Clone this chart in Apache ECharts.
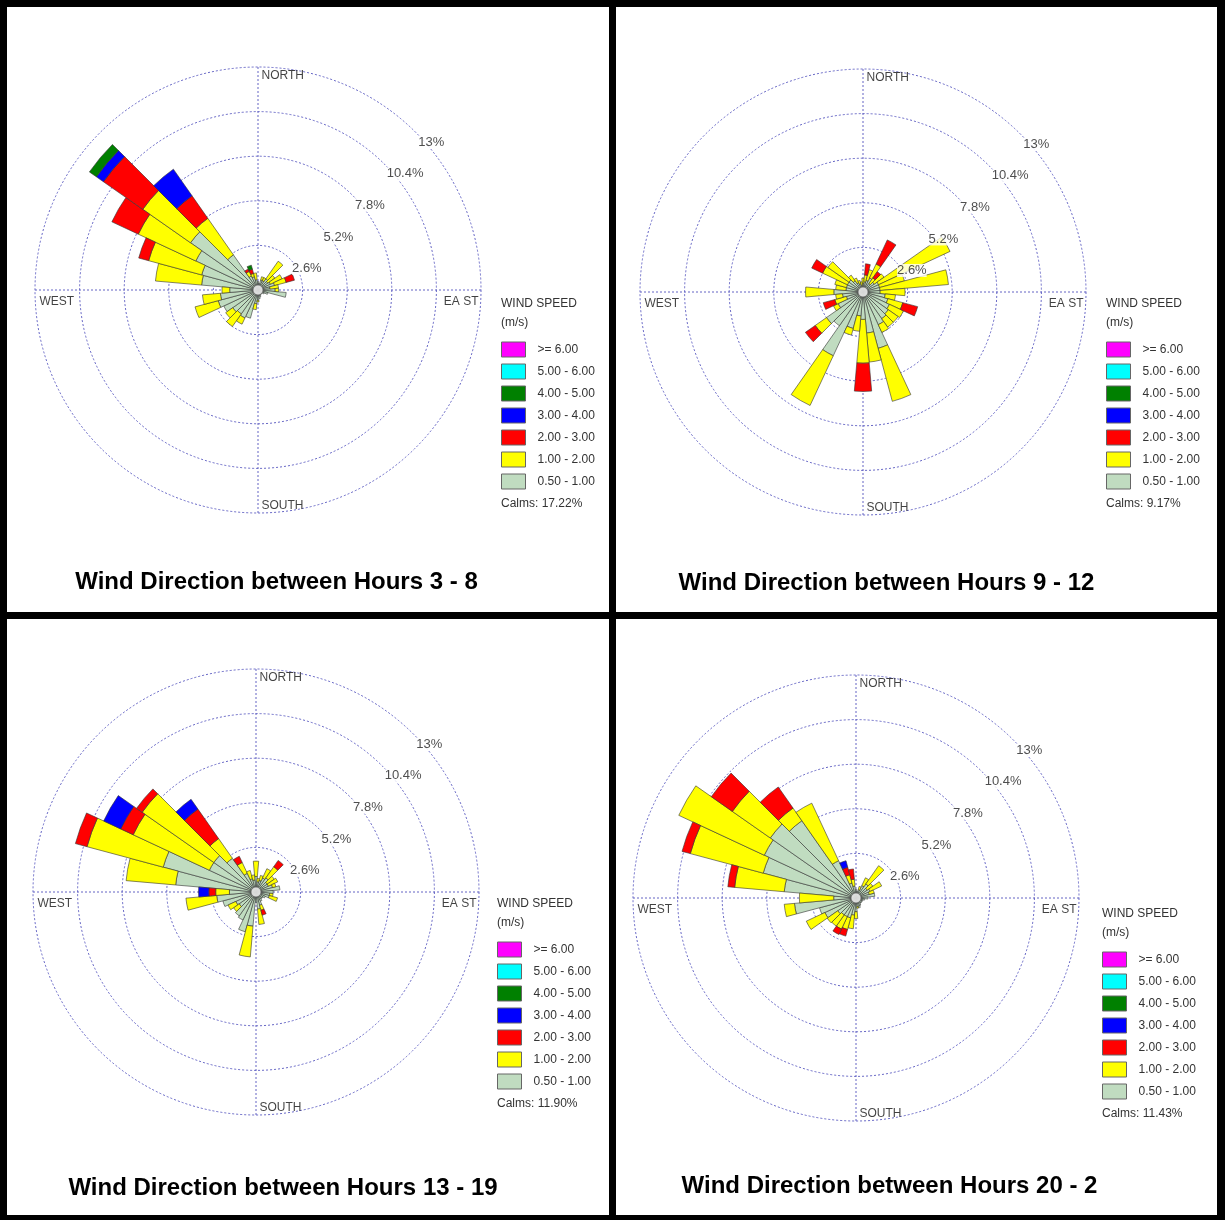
<!DOCTYPE html>
<html>
<head>
<meta charset="utf-8">
<title>Wind Direction by Hour</title>
<script src="https://cdn.jsdelivr.net/npm/echarts/dist/echarts.min.js"></script>
<style>
html, body { margin: 0; padding: 0; background: #000; }
#frame { position: relative; width: 1225px; height: 1220px; background: #000; }
.panel { position: absolute; background: #fff; }
</style>
</head>
<body>
<div id="frame">
  <div class="panel" id="rose_3_8" style="left:7px;top:7px;width:602px;height:605px"></div>
  <div class="panel" id="rose_9_12" style="left:616px;top:7px;width:601px;height:605px"></div>
  <div class="panel" id="rose_13_19" style="left:7px;top:619px;width:602px;height:596px"></div>
  <div class="panel" id="rose_20_2" style="left:616px;top:619px;width:601px;height:596px"></div>
</div>
<script>
// 36 sectors, blowing from, degrees clockwise from north
var directions = ['0', '10', '20', '30', '40', '50', '60', '70', '80', '90', '100', '110',
  '120', '130', '140', '150', '160', '170', '180', '190', '200', '210', '220', '230',
  '240', '250', '260', '270', '280', '290', '300', '310', '320', '330', '340', '350'];
var speedClasses = ['0.50 - 1.00', '1.00 - 2.00', '2.00 - 3.00', '3.00 - 4.00', '4.00 - 5.00', '5.00 - 6.00', '>= 6.00'];
var speedColors = ['#c0dcc0', '#ffff00', '#ff0000', '#0000ff', '#008000', '#00ffff', '#ff00ff'];
var ringTicks = [2.6, 5.2, 7.8, 10.4, 13];

// frequency (%) per direction, speed classes from the inside out
var hours_3_8 = [
  [0.5], [0.4], [0.6, 0.2], [0.6, 0.2], [0.8, 1.25], [0.7, 0.5],
  [0.8, 0.75], [1.0, 0.7, 0.5], [0.7, 0.5], [1.0, 0.2], [1.65], [0.6],
  [0.4], [0.3], [0.3], [0.3], [0.4], [0.5],
  [0.6, 0.1], [0.8, 0.35], [1.7], [1.8, 0.4], [1.7, 0.9], [1.8, 0.5],
  [2.2], [2.4, 1.4], [2.2, 1.05], [1.65, 0.45], [3.3, 2.7], [3.4, 3.2, 0.6],
  [4.0, 3.7, 1.7], [4.8, 3.4, 2.8, 0.5, 0.5], [2.5, 2.6, 1.6, 1.9], [0.9, 0.3, 0.15], [0.8, 0.2, 0.25, 0, 0.25], [0.6, 0.4]
];
var calms_3_8 = 17.22;

var hours_9_12 = [
  [0.5, 0.3], [0.6, 0.4, 0.65], [0.7, 0.65], [0.9, 0.9, 1.55], [0.6, 0.4, 0.45], [0.8, 0.7],
  [1.0, 4.6], [1.0, 1.5], [1.0, 4.0], [1.0, 1.45], [1.3, 0.6], [1.5, 0.9, 0.9],
  [1.7, 0.9], [1.8, 0.7], [1.9, 0.6], [2.1, 0.5], [3.4, 3.2], [2.4, 1.7],
  [1.6, 2.55, 1.65], [1.4, 0.9], [2.2, 0.4], [4.1, 3.2], [2.4], [2.6, 0.8, 0.7],
  [1.6, 0.3], [1.0, 0.7, 0.7], [1.2, 0.4], [1.7, 1.65], [1.0, 0.6], [1.0, 0.7],
  [1.0, 1.6, 0.7], [1.0, 1.5], [0.8, 0.4], [0.6, 0.3], [0.5, 0.2], [0.4, 0.2]
];
var calms_9_12 = 9.17;

var hours_13_19 = [
  [0.9, 0.9], [0.6, 0.2], [0.7, 0.3], [0.9, 0.6], [1.0, 0.8, 0.45], [0.8, 0.5],
  [0.8, 0.6], [1.0, 0.2], [1.4], [1.0], [0.8, 0.2], [0.8, 0.5],
  [0.6], [0.5], [0.5], [0.6], [0.8, 0.3, 0.3], [1.0, 0.9],
  [0.6], [2.0, 1.8], [2.4], [1.8], [1.7], [1.2, 0.4],
  [1.3, 0.5], [2.0], [2.3, 1.8], [1.55, 0.8, 0.4, 0.6], [4.7, 2.9], [5.6, 4.6, 0.7],
  [3.0, 4.9, 0.8, 1.1], [3.0, 5.1, 0.4], [2.4, 1.4, 2.1, 0.7], [1.2, 0.7, 0.4], [0.8, 0.5], [0.7, 0.3]
];
var calms_13_19 = 11.90;

var hours_20_2 = [
  [0.5], [0.4], [0.5, 0.2], [0.8, 0.5], [1.0, 1.3], [0.8, 0.4],
  [0.9, 0.75], [0.8, 0.3], [1.1], [0.7], [0.5], [0.4],
  [0.4], [0.4], [0.4], [0.5], [0.6], [0.5, 0.1],
  [0.8, 0.4], [1.0, 0.8], [1.2, 0.7, 0.4], [1.2, 0.8, 0.35], [1.2, 0.8], [1.3, 0.75],
  [2.0, 1.2], [2.2], [3.6, 0.6], [1.3, 2.0], [4.2, 2.9, 0.4], [5.6, 4.4, 0.5],
  [5.9, 5.5], [6.1, 2.7, 1.5], [5.5, 0.9, 1.5], [2.4, 3.7], [0.9, 0.5, 0.45, 0.4], [0.7, 0.4, 0.6]
];
var calms_20_2 = 11.43;

var FONT = '"Liberation Sans", Arial, sans-serif';
var gridLine = { color: '#6464c4', width: 1, type: [2, 2] };

function drawRose(domId, petals, calms, title, L) {
  var dom = document.getElementById(domId);
  var myChart = echarts.init(dom, null, { renderer: 'canvas' });

  var series = speedClasses.map(function (name, k) {
    return {
      type: 'bar',
      name: name,
      coordinateSystem: 'polar',
      polarIndex: 0,
      stack: 'rose',
      barCategoryGap: '0%',
      silent: true,
      itemStyle: { color: speedColors[k], borderColor: '#333', borderWidth: 0.6 },
      data: petals.map(function (p) { return p[k] ? p[k] : null; })
    };
  });

  // ring labels at north-east
  series.push({
    type: 'scatter',
    coordinateSystem: 'polar',
    polarIndex: 1,
    silent: true,
    symbolSize: 1,
    z: 10,
    itemStyle: { color: 'rgba(0,0,0,0)' },
    label: {
      show: true,
      position: [3, 4],
      fontSize: 13,
      fontFamily: FONT,
      color: '#222',
      backgroundColor: '#fff',
      formatter: function (p) { return p.value[0] + '%'; }
    },
    data: ringTicks.map(function (t) { return [t, 45]; })
  });

  // compass labels
  var rMax = ringTicks[ringTicks.length - 1];
  series.push({
    type: 'scatter',
    coordinateSystem: 'polar',
    polarIndex: 1,
    silent: true,
    symbolSize: 1,
    z: 10,
    itemStyle: { color: 'rgba(0,0,0,0)' },
    label: {
      show: true,
      fontSize: 12,
      fontFamily: FONT,
      color: '#111',
      formatter: '{b}'
    },
    data: [
      { name: 'NORTH', value: [rMax, 0], label: { position: [4, 3], align: 'left', verticalAlign: 'top' } },
      { name: 'EA ST', value: [rMax, 90], label: { position: [-2, 6], align: 'right', verticalAlign: 'top' } },
      { name: 'SOUTH', value: [rMax, 180], label: { position: [4, -1], align: 'left', verticalAlign: 'bottom' } },
      { name: 'WEST', value: [rMax, 270], label: { position: [5, 6], align: 'left', verticalAlign: 'top' } }
    ]
  });

  // calm circle
  series.push({
    type: 'scatter',
    coordinateSystem: 'polar',
    polarIndex: 1,
    silent: true,
    symbolSize: 10,
    z: 8,
    itemStyle: { color: '#fff', borderColor: '#555', borderWidth: 0.8 },
    data: [[0, 0]]
  });

  var option = {
    animation: false,
    polar: [
      { center: [L.cx, L.cy], radius: 223 },
      { center: [L.cx, L.cy], radius: 223 }
    ],
    angleAxis: [
      {
        polarIndex: 0, type: 'category', data: directions, startAngle: 95, boundaryGap: true,
        axisLine: { show: false }, axisTick: { show: false }, axisLabel: { show: false }, splitLine: { show: false }
      },
      {
        polarIndex: 1, type: 'value', min: 0, max: 360, interval: 90, startAngle: 90,
        axisLine: { show: false }, axisTick: { show: false }, axisLabel: { show: false },
        splitLine: { show: true, lineStyle: gridLine }
      }
    ],
    radiusAxis: [
      {
        polarIndex: 0, type: 'value', min: 0, max: rMax,
        axisLine: { show: false }, axisTick: { show: false }, axisLabel: { show: false }, splitLine: { show: false }
      },
      {
        polarIndex: 1, type: 'value', min: 0, max: rMax, interval: 2.6,
        axisLine: { show: false }, axisTick: { show: false }, axisLabel: { show: false },
        splitLine: { show: true, lineStyle: gridLine }
      }
    ],
    legend: {
      orient: 'vertical',
      left: L.legendX,
      top: L.legendY - 7.5,
      padding: 0,
      itemWidth: 24,
      itemHeight: 15,
      itemGap: 6,
      icon: 'rect',
      selectedMode: false,
      data: speedClasses.slice().reverse(),
      itemStyle: { borderColor: '#666', borderWidth: 1 },
      textStyle: { fontSize: 12, lineHeight: 15, color: '#333', fontFamily: FONT, padding: [0, 0, 0, 7] }
    },
    graphic: [
      {
        type: 'text', x: L.legendX, y: L.legendY - 45,
        style: { text: 'WIND SPEED', font: '12px ' + FONT, fill: '#333', textVerticalAlign: 'middle', verticalAlign: 'middle' }
      },
      {
        type: 'text', x: L.legendX, y: L.legendY - 26,
        style: { text: '(m/s)', font: '12px ' + FONT, fill: '#333', textVerticalAlign: 'middle', verticalAlign: 'middle' }
      },
      {
        type: 'text', x: L.legendX, y: L.legendY + 155,
        style: { text: 'Calms: ' + calms.toFixed(2) + '%', font: '12px ' + FONT, fill: '#333', textVerticalAlign: 'middle', verticalAlign: 'middle' }
      },
      {
        type: 'text', x: L.titleX, y: L.titleY,
        style: { text: title, font: 'bold 24px ' + FONT, fill: '#000', textAlign: 'center', align: 'center', textVerticalAlign: 'middle', verticalAlign: 'middle' }
      }
    ],
    series: series
  };

  myChart.setOption(option);
  window.addEventListener('resize', myChart.resize);
}

drawRose('rose_3_8', hours_3_8, calms_3_8, 'Wind Direction between Hours 3 - 8',
  { cx: 251, cy: 283, legendX: 494, legendY: 342, titleX: 269.5, titleY: 575 });
drawRose('rose_9_12', hours_9_12, calms_9_12, 'Wind Direction between Hours 9 - 12',
  { cx: 247, cy: 285, legendX: 490, legendY: 342, titleX: 270.5, titleY: 576 });
drawRose('rose_13_19', hours_13_19, calms_13_19, 'Wind Direction between Hours 13 - 19',
  { cx: 249, cy: 273, legendX: 490, legendY: 330, titleX: 276, titleY: 569 });
drawRose('rose_20_2', hours_20_2, calms_20_2, 'Wind Direction between Hours 20 - 2',
  { cx: 240, cy: 279, legendX: 486, legendY: 340, titleX: 273.5, titleY: 567 });
</script>
</body>
</html>
